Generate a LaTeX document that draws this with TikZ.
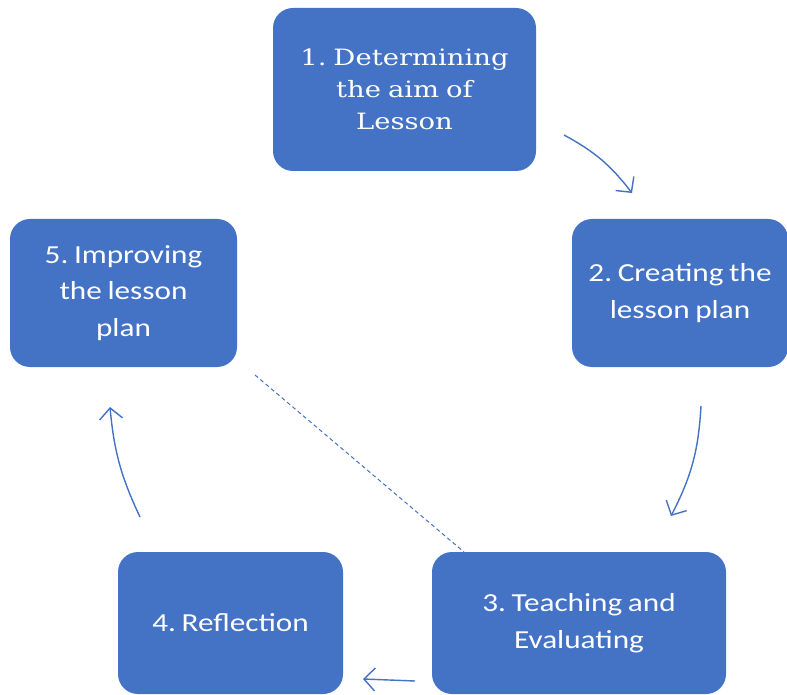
\documentclass[tikz,border=0pt]{standalone}
\usepackage{fontspec}
\setmainfont{Carlito}
\newfontfamily\boxsans[FakeStretch=1.2,WordSpace=0.8]{Carlito}
\newfontfamily\serifbox[FakeStretch=1.22,WordSpace=0.8]{DejaVu Serif}
\usetikzlibrary{arrows.meta}
\definecolor{oblue}{HTML}{4472C4}
\frenchspacing
\begin{document}
\begin{tikzpicture}[x=1pt,y=-1pt,
  stagebox/.style={draw=none, fill=oblue, rounded corners=20pt, text=white,
    align=center, inner sep=0pt, font=\boxsans\fontsize{26}{36.5}\selectfont},
  cyc/.style={draw=oblue, line width=1.4pt,
    -{Straight Barb[length=11pt,width=23pt,line width=1.4pt]}},
  dashlink/.style={draw=oblue, line width=1pt, dash pattern=on 4pt off 3pt}]
\fill[white] (0,0) rectangle (787,695);
\useasboundingbox (0,0) rectangle (787,695);
\clip (0,0) rectangle (787,695);

\node[stagebox, minimum width=263pt, minimum height=163pt,
  font=\serifbox\fontsize{22.5}{32}\selectfont] (s1) at (404.5,89.5)
  {1. Determining\\the aim of\\Lesson};
\node[stagebox, minimum width=216pt, minimum height=148pt] (s2) at (680,293)
  {2. Creating the\\lesson plan};
\node[stagebox, minimum width=294pt, minimum height=142pt] (s3) at (579,623)
  {3. Teaching and\\Evaluating};
\node[stagebox, minimum width=225pt, minimum height=142pt] (s4) at (230.5,623)
  {4. Reflection};
\node[stagebox, minimum width=227pt, minimum height=148pt] (s5) at (123.5,293)
  {5. Improving\\the lesson\\plan};

\coordinate (a1s) at (564,135);
\coordinate (a1e) at (632,193);
\coordinate (a2s) at (701,406);
\coordinate (a2e) at (671,516);
\coordinate (a3s) at (415,681);
\coordinate (a3e) at (363,679);
\coordinate (a4s) at (140,517);
\coordinate (a4e) at (110,407);
\coordinate (ds) at (255,375);
\coordinate (de) at (464,552);

\draw[cyc] (a1s) to[bend left=12] (a1e);
\draw[cyc] (a2s) to[bend left=12] (a2e);
\draw[cyc] (a3s) -- (a3e);
\draw[cyc] (a4s) to[bend left=10] (a4e);
\draw[dashlink] (ds) -- (de);
\end{tikzpicture}
\end{document}
